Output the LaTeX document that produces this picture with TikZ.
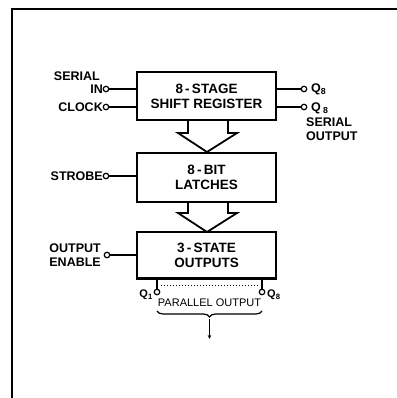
\documentclass[tikz,border=0pt]{standalone}
\usepackage{fontspec}
\setmainfont{Liberation Sans}
\usetikzlibrary{decorations.pathreplacing,arrows.meta}
\begin{document}
\begin{tikzpicture}[x=1pt,y=-1pt,
  blk/.style={draw,line width=1.8pt,minimum width=139pt,inner sep=0pt,align=center,font=\fontsize{13.5}{15}\selectfont\bfseries},
  pin/.style={circle,draw,line width=1.2pt,inner sep=0pt,minimum size=5.5pt,fill=white},
  lbl/.style={font=\fontsize{12.5}{13}\selectfont\bfseries,inner sep=0pt},
  wire/.style={line width=1.2pt},
  hollow/.style={line width=1.8pt,line join=miter}]
\useasboundingbox (0,0) rectangle (396,398);
% outer frame
\draw[line width=2pt] (12,400) -- (12,9) -- (400,9);
% blocks
\node[blk,minimum height=48pt] (sr) at (206.5,96) {8\,-\,STAGE\\SHIFT REGISTER};
\node[blk,minimum height=49pt] (lt) at (206.5,177.5) {8\,-\,BIT\\LATCHES};
\node[blk,minimum height=46pt] (ts) at (206.5,255) {3\,-\,STATE\\OUTPUTS};
\draw[line width=3pt] (ts.south west) -- (ts.south east);
% hollow arrows
\coordinate (a1) at (207,152);
\draw[hollow] (188,120) -- (188,133) -- (178,133) -- (a1) -- (237,133) -- (228,133) -- (228,120);
\coordinate (a2) at (207,232);
\draw[hollow] (188,202) -- (188,213) -- (178,213) -- (a2) -- (237,213) -- (228,213) -- (228,202);
% left inputs
\node[pin] (sin) at (106,89) {};
\node[pin] (clk) at (106,107) {};
\node[pin] (stb) at (106,176) {};
\node[pin] (oe) at (107,255) {};
\draw[wire] (sin) -- (sin -| sr.west);
\draw[wire] (clk) -- (clk -| sr.west);
\draw[wire] (stb) -- (stb -| lt.west);
\draw[wire] (oe) -- (oe -| ts.west);
\node[lbl,anchor=east] (lser) at (100,76) {SERIAL};
\node[lbl,anchor=east] (lin) at (103,89) {IN};
\node[lbl,anchor=east] (lclk) at (103,107) {CLOCK};
\node[lbl,anchor=east] (lstb) at (103,176) {STROBE};
\node[lbl,anchor=east,align=center,font=\fontsize{12.5}{14}\selectfont\bfseries] (loe) at (101,255) {OUTPUT\\ENABLE};
% right outputs
\node[pin] (q8a) at (304,89) {};
\node[pin] (q8b) at (304,107) {};
\draw[wire] (q8a) -- (q8a -| sr.east);
\draw[wire] (q8b) -- (q8b -| sr.east);
\node[lbl,anchor=west] (lq8a) at (311,89) {Q\textsubscript{8}};
\node[lbl,anchor=west] (lq8b) at (311,108) {Q\,\textsubscript{8}};
\node[lbl,anchor=north west,align=left,font=\fontsize{12.5}{13.5}\selectfont\bfseries] (lso) at (306,118) {SERIAL\\OUTPUT};
% parallel outputs
\node[pin] (q1) at (157,292) {};
\node[pin] (q8) at (262,292) {};
\draw[wire] (q1) -- (q1 |- ts.south);
\draw[wire] (q8) -- (q8 |- ts.south);
\draw[line width=1pt,dotted] (161,285) -- (258,285);
\node[lbl,font=\fontsize{11}{12}\selectfont\bfseries,anchor=east] (lq1) at (153,295) {Q\textsubscript{1}};
\node[lbl,font=\fontsize{11}{12}\selectfont\bfseries,anchor=west] (lq8) at (267,295) {Q\textsubscript{8}};
\node[inner sep=0pt,font=\fontsize{11}{12}\selectfont] (po) at (209.5,303) {PARALLEL OUTPUT};
\draw[line width=1.2pt,decorate,decoration={brace,mirror,amplitude=6pt}] (157,311) -- (262,311) coordinate[pos=0.5] (bm);
\coordinate (bt) at (209.5,319);
\coordinate (be) at (209.5,339);
\draw[line width=1.2pt,-{Stealth[length=4pt,width=3.5pt]}] (bt) -- (be);
\end{tikzpicture}
\end{document}
